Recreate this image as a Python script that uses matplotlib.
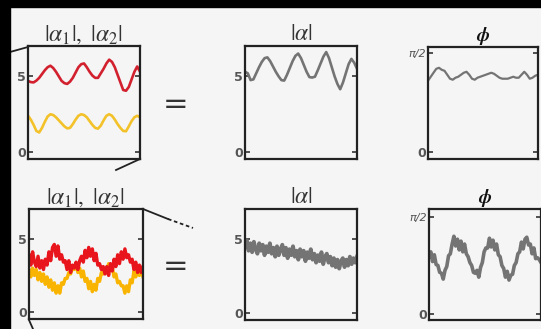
import numpy as np
import matplotlib
matplotlib.use("Agg")
import matplotlib.pyplot as plt
from matplotlib.lines import Line2D
from matplotlib.patches import Rectangle

plt.rcParams["mathtext.fontset"] = "stix"

# ---- data -------------------------------------------------------------
# smooth regime (top row), 41 samples over the window
amp1_smooth = [4.7, 4.62, 4.6, 4.72, 4.9, 5.15, 5.4, 5.6, 5.7, 5.55, 5.3, 5.0, 4.7,
               4.55, 4.5, 4.65, 4.9, 5.25, 5.6, 5.8, 5.85, 5.6, 5.3, 5.05, 4.9, 4.9,
               5.2, 5.5, 5.85, 6.1, 5.95, 5.6, 5.1, 4.6, 4.1, 4.05, 4.3, 4.8, 5.3,
               5.65, 5.3]
amp2_smooth = [2.4, 2.15, 1.8, 1.4, 1.3, 1.6, 2.0, 2.35, 2.5, 2.45, 2.3, 2.1, 1.9,
               1.7, 1.57, 1.6, 1.85, 2.15, 2.4, 2.5, 2.45, 2.3, 2.05, 1.8, 1.6, 1.55,
               1.75, 2.1, 2.4, 2.5, 2.4, 2.15, 1.85, 1.6, 1.4, 1.38, 1.7, 2.05, 2.3,
               2.4, 2.3]
amp_smooth = [5.3, 5.2, 4.75, 4.8, 5.2, 5.6, 5.95, 6.2, 6.25, 6.0, 5.65, 5.3, 5.0,
              4.75, 4.72, 5.1, 5.55, 6.0, 6.35, 6.5, 6.2, 5.75, 5.3, 4.95, 4.92, 4.98,
              5.4, 5.85, 6.3, 6.6, 6.2, 5.6, 5.0, 4.5, 4.15, 4.6, 5.2, 5.8, 6.15,
              5.9, 5.5]
# phase in units of pi/2
phase_smooth = [0.72, 0.76, 0.80, 0.84, 0.85, 0.83, 0.82, 0.78, 0.74, 0.73, 0.75,
                0.76, 0.78, 0.80, 0.81, 0.78, 0.74, 0.73, 0.75, 0.76, 0.77, 0.78,
                0.79, 0.80, 0.79, 0.77, 0.75, 0.74, 0.74, 0.74, 0.75, 0.76, 0.75,
                0.75, 0.78, 0.81, 0.78, 0.74, 0.75, 0.77, 0.78]

# noisy regime (bottom row), 64 samples over the window
amp1_noisy = [3.9, 3.2, 4.1, 3.4, 3.1, 3.8, 3.0, 3.5,
              2.9, 3.6, 3.2, 4.1, 3.5, 4.4, 4.6, 3.8,
              4.5, 3.6, 3.9, 3.4, 3.5, 2.9, 3.5, 2.7,
              3.2, 3.0, 3.4, 2.9, 3.5, 3.8, 3.4, 4.2,
              3.7, 4.4, 3.8, 4.3, 3.5, 4.0, 3.2, 3.3,
              2.9, 3.1, 2.6, 3.1, 2.5, 3.3, 2.8, 3.6,
              3.1, 3.9, 3.3, 4.1, 3.6, 4.3, 3.7, 3.9,
              3.4, 3.6, 2.9, 3.4, 2.7, 3.2, 2.7, 3.1]
amp2_noisy = [2.9, 2.4, 3.0, 2.5, 2.9, 2.2, 2.7, 2.1,
              2.6, 1.9, 2.4, 1.7, 2.2, 1.5, 2.0, 1.3,
              1.8, 1.3, 2.0, 1.9, 2.3, 2.3, 2.7, 2.6,
              3.0, 2.9, 3.3, 2.7, 3.0, 2.4, 2.8, 2.1,
              2.3, 1.6, 2.1, 1.4, 1.9, 1.5, 2.3, 2.1,
              2.7, 2.6, 3.0, 2.9, 3.3, 2.9, 3.1, 2.4,
              2.6, 2.0, 2.1, 1.8, 1.8, 1.3, 1.8, 1.4,
              2.2, 2.0, 2.8, 2.4, 2.9, 2.5, 2.8, 2.4]
amp_noisy = [4.5, 4.9, 4.2, 4.7, 4.1, 4.8, 4.3, 4.0,
             4.7, 4.2, 4.6, 3.9, 4.5, 4.1, 4.7, 4.0,
             4.4, 3.8, 4.5, 3.9, 4.3, 4.6, 3.9, 4.4,
             3.7, 4.3, 3.9, 4.5, 3.8, 4.2, 3.6, 4.3,
             3.8, 4.2, 3.5, 4.1, 3.7, 4.3, 3.6, 4.0,
             3.4, 3.9, 3.5, 4.1, 3.3, 3.8, 4.0, 3.4,
             3.8, 3.2, 3.7, 3.1, 3.6, 3.0, 3.5, 3.7,
             3.1, 3.6, 3.2, 3.8, 3.3, 3.7, 3.4, 3.8]
phase_noisy = [0.59, 0.64, 0.54, 0.61, 0.51, 0.50, 0.43, 0.42,
               0.36, 0.45, 0.49, 0.60, 0.62, 0.72, 0.80, 0.70,
               0.77, 0.66, 0.75, 0.64, 0.72, 0.62, 0.59, 0.53,
               0.50, 0.43, 0.42, 0.45, 0.38, 0.48, 0.53, 0.64,
               0.68, 0.68, 0.78, 0.69, 0.76, 0.66, 0.72, 0.61,
               0.59, 0.50, 0.47, 0.38, 0.44, 0.35, 0.40, 0.41,
               0.50, 0.53, 0.62, 0.64, 0.74, 0.67, 0.77, 0.79,
               0.71, 0.72, 0.62, 0.68, 0.57, 0.58, 0.56, 0.53]

amp_ticks = [0, 5]
amp_ticklabels = ["0", "5"]
phase_ticks = [0, 1]
phase_ticklabels = ["0", "π/2"]

# ---- figure -----------------------------------------------------------
W, H = 541, 329
BG = "#f5f5f5"
fig = plt.figure(figsize=(W / 100, H / 100), dpi=100, facecolor=BG)


def box(x0, y0, x1, y1):
    """pixel box (top-left origin) -> figure rect"""
    return [x0 / W, 1 - y1 / H, (x1 - x0) / W, (y1 - y0) / H]


def style(ax, ylim, ticks, labels, title, title_kw):
    ax.set_facecolor(BG)
    ax.set_xlim(0, 1)
    ax.set_ylim(*ylim)
    ax.set_xticks([])
    ax.set_yticks(ticks)
    ax.set_yticklabels(labels)
    ax.tick_params(axis="y", direction="in", length=3.5, width=1.2, left=True,
                   right=True, pad=1.5, labelsize=9, labelcolor="#555555",
                   color="#333333")
    for lab in ax.get_yticklabels():
        if lab.get_text() == "π/2":
            lab.set_fontstyle("italic")
            lab.set_fontsize(8)
        else:
            lab.set_fontweight("bold")
    for s in ax.spines.values():
        s.set_linewidth(1.6)
        s.set_color("#222222")
    ax.set_title(title, pad=4, **title_kw)


t41 = np.linspace(0, 1, len(amp_smooth))
t64 = np.linspace(0, 1, len(amp_noisy))
amp_lim = (-0.45, 7.0)
mag_title = dict(fontsize=17, color="#333333")
phi_title = dict(fontsize=14, color="#111111")
phi_label = r"$\boldsymbol{\phi}$"
pair_label = r"$|\alpha_1|,\ |\alpha_2|$"

RED1, YEL1 = "#d2202e", "#f3c22a"
RED2, YEL2 = "#e8161c", "#f9b400"
GRAY = "#747474"

# top row
ax = fig.add_axes(box(28, 46, 140, 159))
ax.plot(t41, amp2_smooth, color=YEL1, lw=1.9)
ax.plot(t41, amp1_smooth, color=RED1, lw=1.9)
style(ax, amp_lim, amp_ticks, amp_ticklabels, pair_label, mag_title)

ax = fig.add_axes(box(245, 46, 357, 159))
ax.plot(t41, amp_smooth, color=GRAY, lw=1.9)
style(ax, amp_lim, amp_ticks, amp_ticklabels, r"$|\alpha|$", mag_title)

ax = fig.add_axes(box(428, 47, 538, 159))
ax.plot(t41, phase_smooth, color=GRAY, lw=1.6)
style(ax, (-0.07, 1.06), phase_ticks, phase_ticklabels, phi_label, phi_title)

# bottom row
ax = fig.add_axes(box(29, 209, 143, 319))
ax.plot(t64, amp2_noisy, color=YEL2, lw=2.4)
ax.plot(t64, amp1_noisy, color=RED2, lw=2.4)
style(ax, amp_lim, amp_ticks, amp_ticklabels, pair_label, mag_title)

ax = fig.add_axes(box(245, 209, 357, 320))
ax.plot(t64, amp_noisy, color=GRAY, lw=2.8)
style(ax, amp_lim, amp_ticks, amp_ticklabels, r"$|\alpha|$", mag_title)

ax = fig.add_axes(box(429, 209, 541, 320))
ax.plot(t64, phase_noisy, color=GRAY, lw=2.6)
style(ax, (-0.06, 1.08), phase_ticks, phase_ticklabels, phi_label, phi_title)

# equals signs
for yy in (105, 266):
    fig.text(176 / W, 1 - yy / H, "=", fontsize=22, color="#333333",
             ha="center", va="center")


# callout lines linking the panels
def seg(x0, y0, x1, y1, **kw):
    fig.add_artist(Line2D([x0 / W, x1 / W], [1 - y0 / H, 1 - y1 / H],
                          color="#222222", lw=1.3, **kw))


seg(28, 47, 10, 52)
seg(140, 159, 116, 170)
seg(143, 209, 168, 219)
seg(168, 219, 193, 228, ls=(0, (2, 1.5)))
seg(29, 320, 33, 329)

# dark frame of the slide
fig.add_artist(Rectangle((0, 1 - 7 / H), 1, 7 / H, transform=fig.transFigure,
                         color="black", zorder=10))
fig.add_artist(Rectangle((0, 0), 10 / W, 1, transform=fig.transFigure,
                         color="black", zorder=10))

fig.savefig("out.png", dpi=100, facecolor=BG)
